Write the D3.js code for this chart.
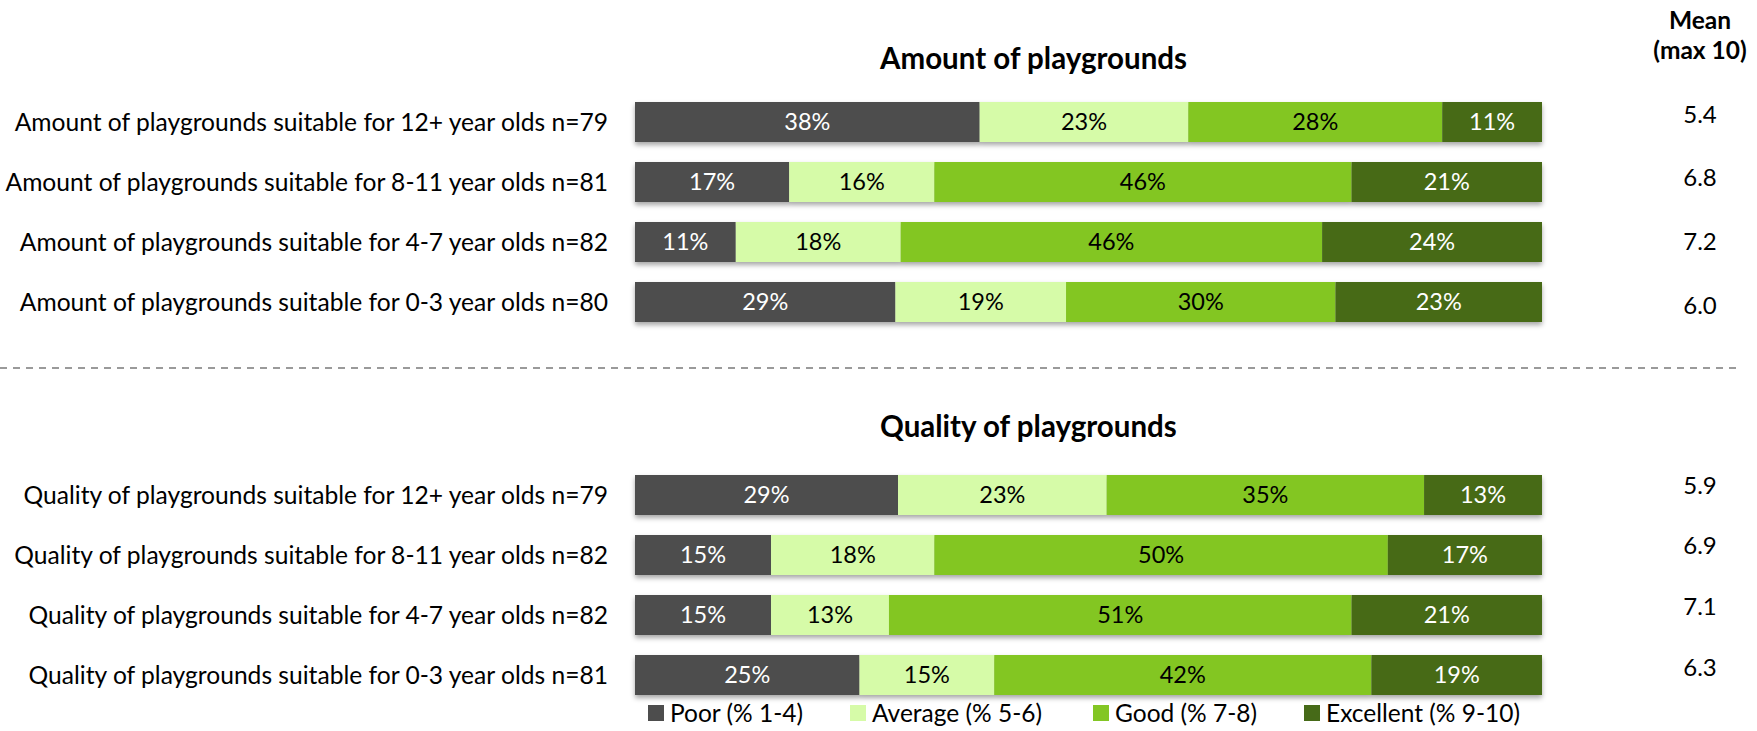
<!DOCTYPE html>
<html>
<head>
<meta charset="utf-8">
<script src="https://cdn.jsdelivr.net/npm/d3@7"></script>
<style>
  html, body { margin: 0; padding: 0; background: #fff; }
  svg { display: block; font-family: Lato, "Open Sans", sans-serif; }
</style>
</head>
<body>
<svg id="chart" width="1757" height="731"></svg>
<script>
// ---------- data ----------
const seriesNames = ["Poor (% 1-4)", "Average (% 5-6)", "Good (% 7-8)", "Excellent (% 9-10)"];
const seriesKeys = ["poor", "average", "good", "excellent"];
const seriesColors = ["#4d4d4d", "#d6fba8", "#83c624", "#466a18"];
const labelColors = ["#ffffff", "#000000", "#000000", "#ffffff"];

const amountTitle = "Amount of playgrounds";
const amountCategories = [
  "Amount of playgrounds suitable for 12+ year olds n=79",
  "Amount of playgrounds suitable for 8-11 year olds n=81",
  "Amount of playgrounds suitable for 4-7 year olds n=82",
  "Amount of playgrounds suitable for 0-3 year olds n=80"
];
const amountPoor = [38, 17, 11, 29];
const amountAverage = [23, 16, 18, 19];
const amountGood = [28, 46, 46, 30];
const amountExcellent = [11, 21, 24, 23];
const amountMeans = ["5.4", "6.8", "7.2", "6.0"];

const qualityTitle = "Quality of playgrounds";
const qualityCategories = [
  "Quality of playgrounds suitable for 12+ year olds n=79",
  "Quality of playgrounds suitable for 8-11 year olds n=82",
  "Quality of playgrounds suitable for 4-7 year olds n=82",
  "Quality of playgrounds suitable for 0-3 year olds n=81"
];
const qualityPoor = [29, 15, 15, 25];
const qualityAverage = [23, 18, 13, 15];
const qualityGood = [35, 50, 51, 42];
const qualityExcellent = [13, 17, 21, 19];
const qualityMeans = ["5.9", "6.9", "7.1", "6.3"];

const meanHeader = ["Mean", "(max 10)"];

// ---------- layout ----------
const svg = d3.select("#chart");
const x = d3.scaleLinear().domain([0, 1]).range([635, 1542]);

const defs = svg.append("defs");
const f = defs.append("filter").attr("id", "shadow")
  .attr("x", "-5%").attr("y", "-30%").attr("width", "110%").attr("height", "180%");
f.append("feDropShadow").attr("dx", 0).attr("dy", 3).attr("stdDeviation", 2.5)
  .attr("flood-color", "#000").attr("flood-opacity", 0.35);

function panel(cfg) {
  const rows = cfg.categories.map((c, i) => ({
    cat: c,
    poor: cfg.poor[i], average: cfg.average[i], good: cfg.good[i], excellent: cfg.excellent[i]
  }));
  const stacked = d3.stack().keys(seriesKeys).offset(d3.stackOffsetExpand)(rows);
  const y = d3.scaleBand().domain(cfg.categories).range(cfg.yRange).paddingInner(1 / 3).paddingOuter(0);
  const g = svg.append("g");

  // title
  g.append("text")
    .attr("x", 880).attr("y", cfg.titleY)
    .attr("font-weight", "bold").attr("font-size", 29.5).attr("fill", "#000")
    .text(cfg.title);

  // category labels
  const yAxis = d3.axisLeft(y).tickSize(0).tickPadding(0);
  const ax = g.append("g").attr("transform", "translate(608,0)").call(yAxis);
  ax.select(".domain").remove();
  ax.selectAll("text").attr("font-size", 24.6).attr("fill", "#000")
    .attr("font-family", "Lato, sans-serif").attr("dy", "0.35em");

  // bars
  const rowsG = g.selectAll("g.row").data(cfg.categories).join("g").attr("class", "row")
    .attr("filter", "url(#shadow)");
  stacked.forEach((s, si) => {
    g.selectAll(null).data(s).join("rect")
      .attr("x", d => x(d[0])).attr("width", d => x(d[1]) - x(d[0]))
      .attr("y", d => y(d.data.cat)).attr("height", y.bandwidth())
      .attr("fill", seriesColors[si])
      .each(function(d) { rowsG.filter(c => c === d.data.cat).node().appendChild(this); });
  });
  stacked.forEach((s, si) => {
    g.selectAll(null).data(s).join("text")
      .attr("x", d => (x(d[0]) + x(d[1])) / 2)
      .attr("y", d => y(d.data.cat) + y.bandwidth() / 2)
      .attr("dy", "0.36em").attr("text-anchor", "middle")
      .attr("font-size", 23.5).attr("fill", labelColors[si])
      .text(d => d.data[seriesKeys[si]] + "%");
  });

  // means
  const ym = d3.scalePoint().domain(cfg.categories).range(cfg.meanRange);
  g.selectAll(null).data(cfg.categories).join("text")
    .attr("x", 1700).attr("y", c => ym(c)).attr("dy", "0.36em")
    .attr("text-anchor", "middle").attr("font-size", 24).attr("fill", "#000")
    .text((c, i) => cfg.means[i]);
}

panel({
  title: amountTitle, titleY: 69, categories: amountCategories,
  poor: amountPoor, average: amountAverage, good: amountGood, excellent: amountExcellent,
  means: amountMeans, yRange: [102, 322], meanRange: [114, 305]
});
panel({
  title: qualityTitle, titleY: 437, categories: qualityCategories,
  poor: qualityPoor, average: qualityAverage, good: qualityGood, excellent: qualityExcellent,
  means: qualityMeans, yRange: [475, 695], meanRange: [485, 667]
});

// mean header
svg.selectAll(null).data(meanHeader).join("text")
  .attr("x", 1700).attr("y", (d, i) => 20 + i * 30).attr("dy", "0.36em")
  .attr("text-anchor", "middle").attr("font-weight", "bold").attr("font-size", 24.5)
  .attr("fill", "#000").text(d => d);

// dashed separator
svg.append("line").attr("x1", 0).attr("x2", 1737).attr("y1", 368).attr("y2", 368)
  .attr("stroke", "#9a9a9a").attr("stroke-width", 2).attr("stroke-dasharray", "7,6");

// legend
const legendX = [648, 850, 1093, 1304];
const lg = svg.append("g").selectAll("g").data(seriesNames).join("g")
  .attr("transform", (d, i) => `translate(${legendX[i]},713)`);
lg.append("rect").attr("x", 0).attr("y", -8).attr("width", 16).attr("height", 16)
  .attr("fill", (d, i) => seriesColors[i]);
lg.append("text").attr("x", 22).attr("dy", "0.36em").attr("font-size", 24.5).attr("fill", "#000")
  .text(d => d);
</script>
</body>
</html>
